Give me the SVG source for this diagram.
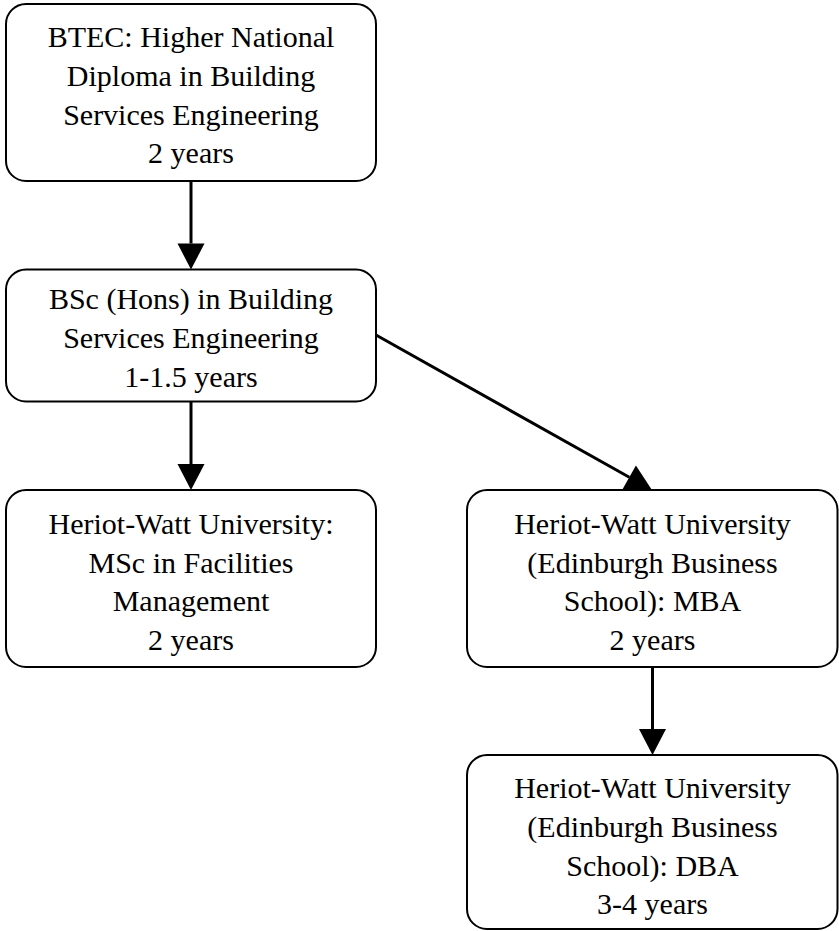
<svg xmlns="http://www.w3.org/2000/svg" width="839" height="931" viewBox="0 0 839 931">
<style>
  .box { fill: #fff; stroke: #000; stroke-width: 2; }
  .t { font-family: "Liberation Serif", "Times New Roman", serif; font-size: 30px; fill: #000; text-anchor: middle; }
  .edge { stroke: #000; stroke-width: 3; fill: none; }
</style>
<defs>
  <marker id="ah" markerUnits="userSpaceOnUse" markerWidth="27" markerHeight="28" refX="0" refY="14" orient="auto" overflow="visible">
    <path d="M0,0.5 L26,14 L0,27.5 Z" fill="#000"/>
  </marker>
</defs>
<rect width="839" height="931" fill="#fff"/>
<g id="connectors">
  <line class="edge" x1="191" y1="181" x2="191" y2="243.5" marker-end="url(#ah)"/>
  <line class="edge" x1="191" y1="402" x2="191" y2="464" marker-end="url(#ah)"/>
  <line class="edge" x1="376" y1="335" x2="629.3" y2="477.3" marker-end="url(#ah)"/>
  <line class="edge" x1="652.5" y1="667" x2="652.5" y2="729" marker-end="url(#ah)"/>
</g>
<g id="n1">
  <rect class="box" x="6" y="4" width="370" height="177" rx="20"/>
  <text class="t" x="191" y="47">BTEC: Higher National</text>
  <text class="t" x="191" y="86">Diploma in Building</text>
  <text class="t" x="191" y="124.5">Services Engineering</text>
  <text class="t" x="191" y="163">2 years</text>
</g>
<g id="n2">
  <rect class="box" x="6" y="269.5" width="370" height="132" rx="20"/>
  <text class="t" x="191" y="309">BSc (Hons) in Building</text>
  <text class="t" x="191" y="348">Services Engineering</text>
  <text class="t" x="191" y="387">1-1.5 years</text>
</g>
<g id="n3">
  <rect class="box" x="6" y="490" width="370" height="177" rx="20"/>
  <text class="t" x="191" y="534">Heriot-Watt University:</text>
  <text class="t" x="191" y="572.5">MSc in Facilities</text>
  <text class="t" x="191" y="611">Management</text>
  <text class="t" x="191" y="649.5">2 years</text>
</g>
<g id="n4">
  <rect class="box" x="467" y="490" width="370.5" height="177" rx="20"/>
  <text class="t" x="652.5" y="534">Heriot-Watt University</text>
  <text class="t" x="652.5" y="572.5">(Edinburgh Business</text>
  <text class="t" x="652.5" y="611">School): MBA</text>
  <text class="t" x="652.5" y="649.5">2 years</text>
</g>
<g id="n5">
  <rect class="box" x="467" y="755" width="370.5" height="174" rx="20"/>
  <text class="t" x="652.5" y="798">Heriot-Watt University</text>
  <text class="t" x="652.5" y="836.5">(Edinburgh Business</text>
  <text class="t" x="652.5" y="875.5">School): DBA</text>
  <text class="t" x="652.5" y="914">3-4 years</text>
</g>
</svg>
